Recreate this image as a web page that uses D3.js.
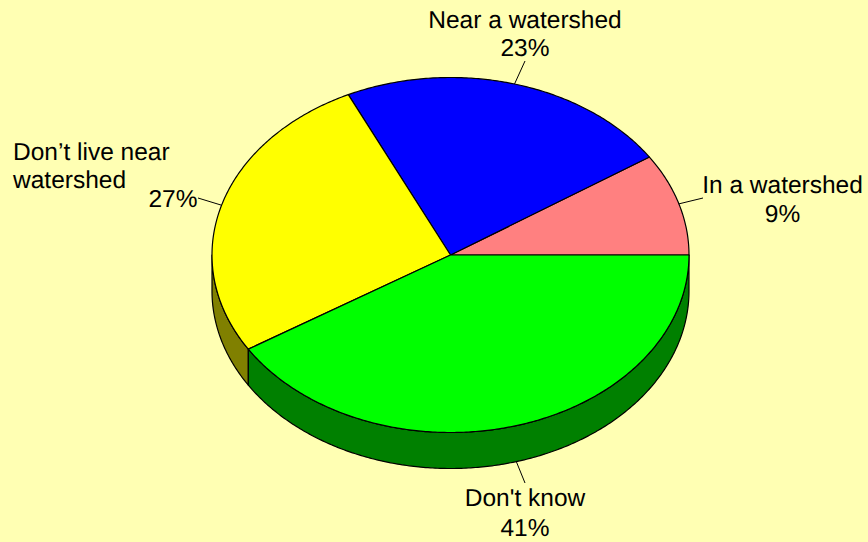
<!DOCTYPE html>
<html>
<head>
<meta charset="utf-8">
<script src="https://cdn.jsdelivr.net/npm/d3@7"></script>
<style>
html,body{margin:0;padding:0;background:#FFFFB3;}
svg{display:block;}
text{font-family:"Liberation Sans",Arial,sans-serif;font-size:24.5px;fill:#000;text-rendering:geometricPrecision;}
</style>
</head>
<body>
<svg id="chart" width="868" height="542"></svg>
<script>
const categoryLines = [["In a watershed"], ["Near a watershed"], ["Don\u2019t live near", "watershed"], ["Don't know"]];
const values = [9.3, 22.75, 26.85, 41.1];
const percentLabels = ["9%", "23%", "27%", "41%"];
const topColors = ["#FF8080", "#0000FF", "#FFFF00", "#00FF00"];
const sideColors = ["#804040", "#000080", "#808000", "#008000"];

const W = 868, H = 542;
const cx = 450.5, cy = 255, rx = 238.5, ry = 177.5, depth = 36;

const svg = d3.select("#chart").attr("viewBox", `0 0 ${W} ${H}`);
svg.append("rect").attr("width", W).attr("height", H).attr("fill", "#FFFFB3");

// unit-circle space → pixels
const sx = d3.scaleLinear().domain([-1, 1]).range([cx - rx, cx + rx]);
const sy = d3.scaleLinear().domain([-1, 1]).range([cy - ry, cy + ry]);

// d3 angles are clockwise from 12 o'clock; slices run counter-clockwise from 3 o'clock
const arcs = d3.pie().sort(null).startAngle(Math.PI / 2).endAngle(Math.PI / 2 - 2 * Math.PI)(values);
const px = a => sx(Math.sin(a));
const py = a => sy(-Math.cos(a));

function ellipseArc(a0, a1, dy) {
  const steps = Math.max(2, Math.ceil(Math.abs(a1 - a0) / 0.01));
  return d3.range(steps + 1).map(i => {
    const a = a0 + (a1 - a0) * i / steps;
    return [px(a), py(a) + dy];
  });
}
const line = d3.line();

// Side walls: only the visible front half
const sideG = svg.append("g");
arcs.forEach((d, i) => {
  const hi = Math.max(d.startAngle, d.endAngle), lo = Math.min(d.startAngle, d.endAngle);
  const shift = 2 * Math.PI;
  const a0 = Math.max(lo + shift, Math.PI / 2), a1 = Math.min(hi + shift, 1.5 * Math.PI);
  if (a1 <= a0) return;
  const top = ellipseArc(a0, a1, 0), bottom = ellipseArc(a1, a0, depth);
  sideG.append("path")
    .attr("d", line(top.concat(bottom)) + "Z")
    .attr("fill", sideColors[i])
    .attr("stroke", "#000").attr("stroke-width", 1.2).attr("stroke-linejoin", "round");
});

// Top faces
const topG = svg.append("g");
arcs.forEach((d, i) => {
  topG.append("path")
    .attr("d", line([[cx, cy]].concat(ellipseArc(d.startAngle, d.endAngle, 0))) + "Z")
    .attr("fill", topColors[i])
    .attr("stroke", "#000").attr("stroke-width", 1.2).attr("stroke-linejoin", "round");
});

// Labels and leaders
const labelLayout = [
  {x: [782.5], y: [193], px: 782.5, py: 222, anchor: "middle", end: [703, 198], dy: 0},
  {x: [525], y: [28], px: 525, py: 56, anchor: "middle", end: [525, 61], dy: 0},
  {x: [13, 13], y: [160, 188], px: 173, py: 207, anchor: "start", end: [198, 198], dy: 0},
  {x: [525], y: [506], px: 525, py: 536, anchor: "middle", end: [525, 483], dy: depth}
];
const labelG = svg.append("g");
arcs.forEach((d, i) => {
  const L = labelLayout[i], mid = (d.startAngle + d.endAngle) / 2;
  labelG.append("line")
    .attr("x1", px(mid)).attr("y1", py(mid) + L.dy)
    .attr("x2", L.end[0]).attr("y2", L.end[1])
    .attr("stroke", "#000").attr("stroke-width", 1);
  categoryLines[i].forEach((t, j) => {
    labelG.append("text")
      .attr("x", L.x[j]).attr("y", L.y[j])
      .attr("text-anchor", L.anchor)
      .text(t);
  });
  labelG.append("text")
    .attr("x", L.px).attr("y", L.py)
    .attr("text-anchor", "middle")
    .text(percentLabels[i]);
});
</script>
</body>
</html>
